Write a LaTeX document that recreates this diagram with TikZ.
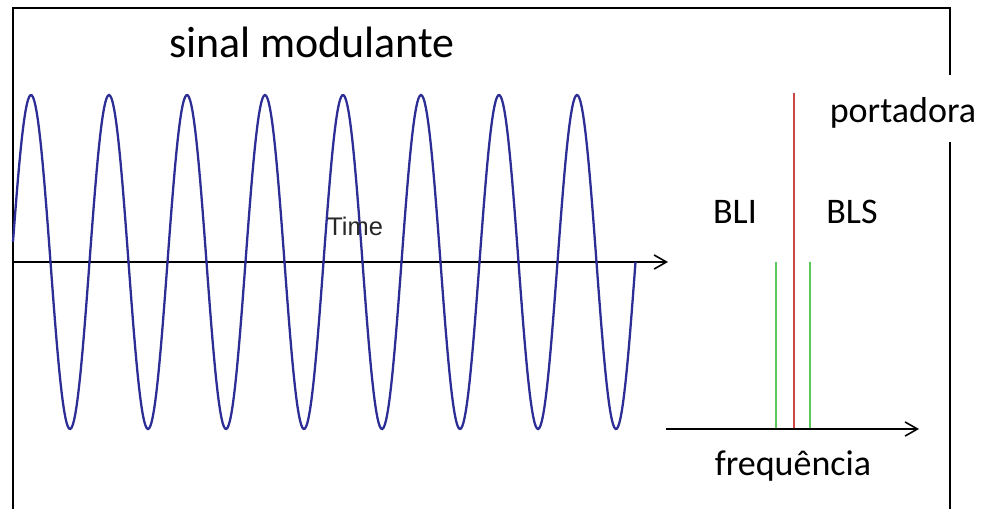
\documentclass[tikz,border=0pt]{standalone}
\usepackage{fontspec}
\setmainfont{Carlito}
\newfontfamily\axisfont{Liberation Sans}
\usetikzlibrary{arrows.meta}
\definecolor{wavenavy}{RGB}{45,45,150}
\definecolor{carrierred}{RGB}{205,70,70}
\definecolor{bandgreen}{RGB}{90,200,90}
\definecolor{inkgray}{RGB}{40,40,40}

\begin{document}
\begin{tikzpicture}[
  x=0.02cm, y=-0.02cm,
  frame/.style={draw=black, line width=1.1pt},
  axis/.style={draw=black, line width=1.1pt,
    -{Straight Barb[length=7pt,width=8pt,line width=0.9pt]}},
  wave/.style={draw=wavenavy, line width=1.3pt},
  carrier/.style={draw=carrierred, line width=1.1pt},
  band/.style={draw=bandgreen, line width=1.1pt},
  lbl/.style={font=\fontsize{20.5}{24}\selectfont, inner sep=0pt}
]
\useasboundingbox (0,0) rectangle (985,508);

% frame, open at the bottom, cut by the carrier label
\draw[frame] (13,515) -- (13,8) -- (950,8) -- (950,75);
\draw[frame] (950,142) -- (950,515);

% time domain
\coordinate (t0) at (13,262);
\coordinate (t1) at (668,262);
\draw[axis] (t0) -- (t1);
\draw[wave] plot[domain=13:635.5, samples=500]
  (\x, {262-167*cos((\x-31)/78*360)});
\node[anchor=base west, inner sep=0pt, text=inkgray,
  font=\axisfont\fontsize{14.5}{16}\selectfont] (time) at (327,235) {Time};
\node[anchor=base, inner sep=0pt, font=\fontsize{25}{30}\selectfont]
  (title) at (312,57) {sinal modulante};

% spectrum
\coordinate (f0) at (666,429);
\coordinate (f1) at (919,429);
\coordinate (lsb) at (776,429);
\coordinate (car) at (794,429);
\coordinate (usb) at (810,429);
\coordinate (lsbtop) at (776,262);
\coordinate (cartop) at (794,93);
\coordinate (usbtop) at (810,262);
\draw[band] (lsb) -- (lsbtop);
\draw[band] (usb) -- (usbtop);
\draw[carrier] (car) -- (cartop);
\draw[axis] (f0) -- (f1);

\node[lbl, anchor=base] (port) at (903,122) {portadora};
\node[lbl, anchor=base] (bli) at (735,223) {BLI};
\node[lbl, anchor=base] (bls) at (852,223) {BLS};
\node[lbl, anchor=base] (freq) at (793,475) {frequência};
\end{tikzpicture}
\end{document}
